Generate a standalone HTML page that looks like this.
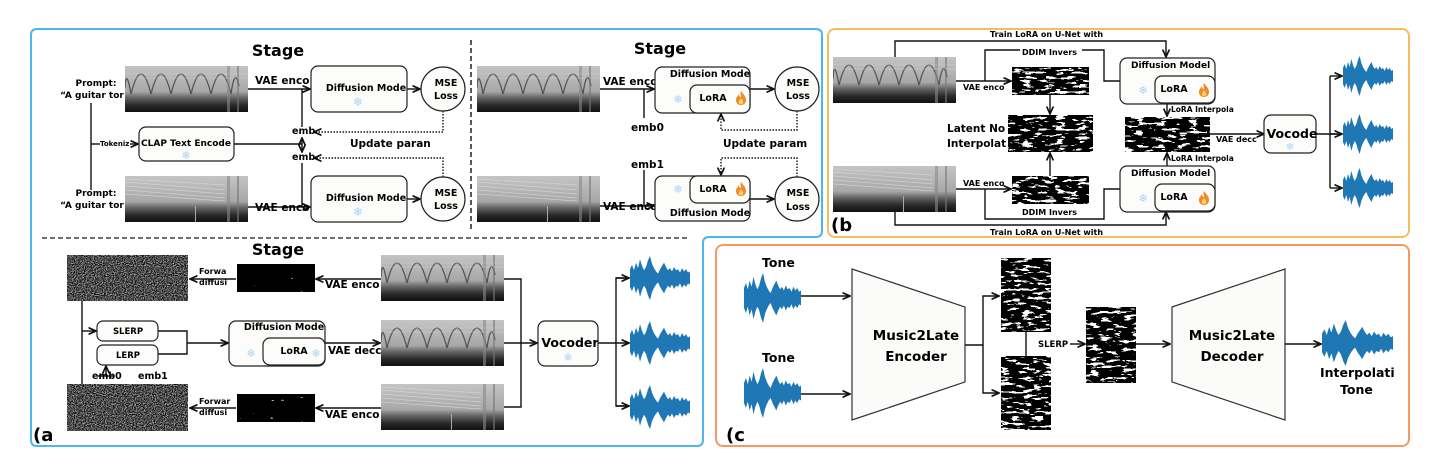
<!DOCTYPE html>
<html><head><meta charset="utf-8"><style>
html,body{margin:0;padding:0;background:#fff;}
svg{display:block;font-family:"DejaVu Sans","Liberation Sans",sans-serif;}
.b{font-weight:bold;}
</style></head><body>
<svg width="1438" height="475" viewBox="0 0 1438 475" xmlns="http://www.w3.org/2000/svg">
<defs>
<linearGradient id="sg" x1="0" y1="0" x2="0" y2="1">
<stop offset="0" stop-color="#c4c4c4"/><stop offset="0.55" stop-color="#a8a8a8"/><stop offset="0.7" stop-color="#606060"/><stop offset="0.85" stop-color="#2a2a2a"/><stop offset="1" stop-color="#101010"/></linearGradient>
<symbol id="specA" viewBox="0 0 123 46" preserveAspectRatio="none">
<rect width="123" height="46" fill="url(#sg)"/>
<path d="M0,22 Q1,0 6,28 M6,28 Q16,-12 26,28 Q36,-12 46,28 Q56,-12 66,28 Q76,-12 86,28 Q96,-12 106,28 Q110,0 114,20" fill="none" stroke="#555" stroke-width="1.3"/>
<rect x="102" y="0" width="3" height="46" fill="#888" opacity=".6"/><rect x="112" y="0" width="2" height="46" fill="#777" opacity=".6"/>
<path d="M0,8 H123 M0,12 H123" stroke="#ddd" stroke-width=".5" opacity=".6"/>
</symbol>
<symbol id="specB" viewBox="0 0 123 46" preserveAspectRatio="none">
<rect width="123" height="46" fill="url(#sg)"/>
<path d="M0,6 L100,14 M0,10 L100,18 M0,14 L100,22 M0,18 L100,25 M0,3 L100,9" stroke="#ddd" stroke-width=".7" opacity=".7"/>
<rect x="102" y="0" width="3" height="46" fill="#888" opacity=".6"/><rect x="112" y="0" width="2" height="46" fill="#777" opacity=".6"/>
<rect x="70" y="30" width="1" height="16" fill="#aaa"/>
</symbol>
<filter id="nz" x="0" y="0" width="100%" height="100%" color-interpolation-filters="sRGB"><feTurbulence type="fractalNoise" baseFrequency="0.9" numOctaves="1" seed="2"/><feColorMatrix type="matrix" values="1 0 0 0 0 1 0 0 0 0 1 0 0 0 0 0 0 0 0 1"/><feComponentTransfer><feFuncR type="linear" slope="1.8" intercept="-0.6"/><feFuncG type="linear" slope="1.8" intercept="-0.6"/><feFuncB type="linear" slope="1.8" intercept="-0.6"/></feComponentTransfer></filter>
<filter id="lt" x="0" y="0" width="100%" height="100%" color-interpolation-filters="sRGB"><feTurbulence type="fractalNoise" baseFrequency="0.09 0.35" numOctaves="3" seed="5"/><feColorMatrix type="matrix" values="1 0 0 0 0 1 0 0 0 0 1 0 0 0 0 0 0 0 0 1"/><feComponentTransfer><feFuncR type="discrete" tableValues="0 0 0 1 1"/><feFuncG type="discrete" tableValues="0 0 0 1 1"/><feFuncB type="discrete" tableValues="0 0 0 1 1"/></feComponentTransfer></filter>
<filter id="lt2" x="0" y="0" width="100%" height="100%" color-interpolation-filters="sRGB"><feTurbulence type="fractalNoise" baseFrequency="0.1 0.35" numOctaves="3" seed="9"/><feColorMatrix type="matrix" values="1 0 0 0 0 1 0 0 0 0 1 0 0 0 0 0 0 0 0 1"/><feComponentTransfer><feFuncR type="discrete" tableValues="0 0 0 0 1"/><feFuncG type="discrete" tableValues="0 0 0 0 1"/><feFuncB type="discrete" tableValues="0 0 0 0 1"/></feComponentTransfer></filter>
<symbol id="wave" viewBox="0 0 60 40" preserveAspectRatio="none">
<path fill="#1f77b4" d="M0,12 L2,8 4,13 6,6 8,11 10,3 12,9 14,13 16,10 18,4 20,0 22,7 24,11 26,14 28,16 30,12 32,9 34,6 36,10 38,13 40,11 42,14 44,10 46,13 48,12 50,15 52,11 54,14 56,12 58,15 60,14 L60,26 58,25 56,28 54,26 52,29 50,25 48,28 46,27 44,30 42,26 40,29 38,27 36,30 34,34 32,31 30,28 28,24 26,26 24,29 22,33 20,40 18,36 16,30 14,27 12,31 10,37 8,29 6,34 4,27 2,32 0,28 Z"/>
<rect x="0" y="18" width="60" height="4" fill="#1f77b4"/>
</symbol>
<symbol id="fire" viewBox="0 0 10 14"><path d="M5,0 C7,3 10,5 10,9 C10,12 8,14 5,14 C2,14 0,12 0,9 C0,6 2,5 3,3 C3,5 4,6 5,6 C5,4 4,2 5,0Z" fill="#f08a2c"/><path d="M5,7 C6,9 8,10 7,12 C6,13.5 4,13.5 3,12 C2.5,10 4,9 5,7Z" fill="#fcd36b"/></symbol>
<marker id="ar" viewBox="0 0 10 10" refX="9" refY="5" markerWidth="6" markerHeight="6" orient="auto-start-reverse"><path d="M0,1 L9,5 L0,9" fill="none" stroke="#111" stroke-width="2"/></marker>
</defs>

<path d="M37,29 H816 Q822,29 822,35 V231 Q822,237 816,237 H709 Q703,237 703,243 V440 Q703,446 697,446 H37 Q31,446 31,440 V35 Q31,29 37,29 Z" fill="none" stroke="#4db6ee" stroke-width="2"/>
<rect x="828" y="29" width="581" height="208" rx="7" fill="none" stroke="#f7bd5c" stroke-width="2"/>
<rect x="716" y="245" width="693" height="201" rx="7" fill="none" stroke="#f49a5e" stroke-width="2"/>

<g stroke="#111" stroke-width="1.4" fill="none">
<line x1="471" y1="40" x2="471" y2="232" stroke-dasharray="5,3"/>
<line x1="42" y1="238" x2="690" y2="238" stroke-dasharray="5,3" stroke="#444"/>
</g>

<!-- Stage 1 -->
<text x="278" y="56" class="b" font-size="16" text-anchor="middle">Stage</text>
<g font-size="9" class="b" text-anchor="middle">
<text x="96" y="86">Prompt:</text><text x="92" y="98">“A guitar tor</text>
<text x="96" y="196">Prompt:</text><text x="92" y="208">“A guitar tor</text>
</g>
<use href="#specA" x="125" y="66" width="123" height="46"/>
<use href="#specB" x="125" y="176" width="123" height="46"/>
<g stroke="#111" stroke-width="1.4" fill="none">
<line x1="91" y1="103" x2="91" y2="190"/>
<line x1="91" y1="144" x2="100" y2="144"/>
<line x1="130" y1="144" x2="138" y2="144" marker-end="url(#ar)"/>
<line x1="248" y1="89" x2="310" y2="89" marker-end="url(#ar)"/>
<line x1="248" y1="207" x2="310" y2="207" marker-end="url(#ar)"/>
<line x1="302" y1="89" x2="302" y2="127"/>
<line x1="302" y1="163" x2="302" y2="207"/>
<line x1="234" y1="144" x2="302" y2="144"/>
<line x1="302" y1="138" x2="302" y2="152" marker-start="url(#ar)" marker-end="url(#ar)"/>
<line x1="407" y1="89" x2="420" y2="89" marker-end="url(#ar)"/>
<line x1="407" y1="199" x2="420" y2="199" marker-end="url(#ar)"/>
<path d="M443,111 V132 H314" stroke-dasharray="1.5,1.5" marker-end="url(#ar)"/>
<path d="M443,177 V158 H314" stroke-dasharray="1.5,1.5" marker-end="url(#ar)"/>
</g>
<text x="100" y="146" font-size="7" class="b">Tokeniz</text>
<rect x="139" y="127" width="95" height="34" rx="7" fill="#fcfcfa" stroke="#222" stroke-width="1.2"/>
<text x="186" y="146" font-size="9" class="b" text-anchor="middle">CLAP Text Encode</text>
<text x="186" y="159" font-size="11" fill="#a8d4f7" text-anchor="middle">❄</text>
<text x="255" y="84" font-size="10.5" class="b">VAE enco</text>
<text x="255" y="211" font-size="10.5" class="b">VAE enco</text>
<text x="292" y="134" font-size="9.5" class="b">emb</text>
<text x="292" y="160" font-size="9.5" class="b">emb</text>
<text x="350" y="147" font-size="10.5" class="b">Update paran</text>
<rect x="311" y="66" width="96" height="46" rx="7" fill="#fcfcfa" stroke="#222" stroke-width="1.2"/>
<text x="366" y="91" font-size="9.5" class="b" text-anchor="middle">Diffusion Mode</text>
<text x="358" y="106" font-size="12" fill="#a8d4f7" text-anchor="middle">❄</text>
<rect x="311" y="176" width="96" height="46" rx="7" fill="#fcfcfa" stroke="#222" stroke-width="1.2"/>
<text x="366" y="201" font-size="9.5" class="b" text-anchor="middle">Diffusion Mode</text>
<text x="358" y="216" font-size="12" fill="#a8d4f7" text-anchor="middle">❄</text>
<circle cx="443" cy="89" r="22" fill="#fcfcfa" stroke="#222" stroke-width="1.2"/>
<text x="446" y="86" font-size="9.5" class="b" text-anchor="middle">MSE</text><text x="446" y="99" font-size="9.5" class="b" text-anchor="middle">Loss</text>
<circle cx="443" cy="199" r="22" fill="#fcfcfa" stroke="#222" stroke-width="1.2"/>
<text x="446" y="196" font-size="9.5" class="b" text-anchor="middle">MSE</text><text x="446" y="209" font-size="9.5" class="b" text-anchor="middle">Loss</text>

<!-- Stage 2 -->
<text x="660" y="54" class="b" font-size="16" text-anchor="middle">Stage</text>
<use href="#specA" x="477" y="66" width="123" height="46"/>
<use href="#specB" x="477" y="176" width="123" height="46"/>
<g stroke="#111" stroke-width="1.4" fill="none">
<line x1="600" y1="89" x2="654" y2="89" marker-end="url(#ar)"/>
<line x1="600" y1="206" x2="654" y2="206" marker-end="url(#ar)"/>
<line x1="644" y1="89" x2="644" y2="118"/>
<line x1="644" y1="170" x2="644" y2="206"/>
<line x1="750" y1="89" x2="774" y2="89" marker-end="url(#ar)"/>
<line x1="750" y1="199" x2="774" y2="199" marker-end="url(#ar)"/>
<path d="M797,111 V130 H721 V114" stroke-dasharray="1.5,1.5" marker-end="url(#ar)"/>
<path d="M797,177 V158 H721 V175" stroke-dasharray="1.5,1.5" marker-end="url(#ar)"/>
</g>
<text x="603" y="85" font-size="10.5" class="b">VAE enco</text>
<text x="603" y="210" font-size="10.5" class="b">VAE enco</text>
<text x="631" y="131" font-size="10.5" class="b">emb0</text>
<text x="631" y="168" font-size="10.5" class="b">emb1</text>
<text x="723" y="147" font-size="10.5" class="b">Update param</text>
<rect x="655" y="67" width="95" height="46" rx="7" fill="#fcfcfa" stroke="#222" stroke-width="1.2"/>
<text x="710" y="77" font-size="9.5" class="b" text-anchor="middle">Diffusion Mode</text>
<rect x="690" y="85" width="60" height="28" rx="7" fill="#fcfcfa" stroke="#222" stroke-width="1.2"/>
<text x="713" y="101" font-size="9.5" class="b" text-anchor="middle">LoRA</text>
<use href="#fire" x="736" y="91" width="10" height="14"/>
<text x="678" y="103" font-size="11" fill="#a8d4f7" text-anchor="middle">❄</text>
<rect x="655" y="176" width="95" height="45" rx="7" fill="#fcfcfa" stroke="#222" stroke-width="1.2"/>
<rect x="690" y="176" width="60" height="27" rx="7" fill="#fcfcfa" stroke="#222" stroke-width="1.2"/>
<text x="713" y="192" font-size="9.5" class="b" text-anchor="middle">LoRA</text>
<use href="#fire" x="736" y="182" width="10" height="14"/>
<text x="678" y="193" font-size="11" fill="#a8d4f7" text-anchor="middle">❄</text>
<text x="710" y="216" font-size="9.5" class="b" text-anchor="middle">Diffusion Mode</text>
<circle cx="797" cy="89" r="22" fill="#fcfcfa" stroke="#222" stroke-width="1.2"/>
<text x="798" y="86" font-size="9.5" class="b" text-anchor="middle">MSE</text><text x="798" y="99" font-size="9.5" class="b" text-anchor="middle">Loss</text>
<circle cx="797" cy="199" r="22" fill="#fcfcfa" stroke="#222" stroke-width="1.2"/>
<text x="798" y="196" font-size="9.5" class="b" text-anchor="middle">MSE</text><text x="798" y="210" font-size="9.5" class="b" text-anchor="middle">Loss</text>

<!-- Stage 3 -->
<text x="278" y="255" class="b" font-size="16" text-anchor="middle">Stage</text>
<rect x="67" y="255" width="121" height="46" filter="url(#nz)"/>
<rect x="67" y="384" width="121" height="47" filter="url(#nz)"/>
<rect x="237" y="264" width="78" height="28" filter="url(#lt2)"/>
<rect x="237" y="394" width="78" height="28" filter="url(#lt2)"/>
<use href="#specA" x="381" y="255" width="123" height="46"/>
<use href="#specA" x="381" y="320" width="123" height="46"/>
<use href="#specB" x="381" y="384" width="123" height="46"/>
<g stroke="#111" stroke-width="1.4" fill="none">
<line x1="236" y1="279" x2="190" y2="279" marker-end="url(#ar)"/>
<line x1="236" y1="408" x2="190" y2="408" marker-end="url(#ar)"/>
<line x1="381" y1="279" x2="316" y2="279" marker-end="url(#ar)"/>
<line x1="381" y1="408" x2="316" y2="408" marker-end="url(#ar)"/>
<path d="M504,279 H521 V407 H504"/>
<line x1="504" y1="343" x2="537" y2="343" marker-end="url(#ar)"/>
<line x1="598" y1="343" x2="629" y2="343" marker-end="url(#ar)"/>
<path d="M629,278 H616 V406 H629" />
<line x1="616" y1="278" x2="629" y2="278" marker-end="url(#ar)"/>
<line x1="616" y1="406" x2="629" y2="406" marker-end="url(#ar)"/>
<line x1="82" y1="301" x2="82" y2="384"/>
<line x1="82" y1="331" x2="96" y2="331" marker-end="url(#ar)"/>
<path d="M158,331 H187 V354 H158"/>
<line x1="187" y1="343" x2="228" y2="343" marker-end="url(#ar)"/>
<line x1="325" y1="343" x2="380" y2="343" marker-end="url(#ar)"/>
<path d="M98,376 H114"/><line x1="106" y1="376" x2="106" y2="366" marker-end="url(#ar)"/>
</g>
<g font-size="8" class="b"><text x="199" y="274">Forwa</text><text x="199" y="285">diffusi</text><text x="199" y="404">Forwar</text><text x="199" y="415">diffusi</text></g>
<text x="325" y="288" font-size="10.5" class="b">VAE enco</text>
<text x="325" y="418" font-size="10.5" class="b">VAE enco</text>
<text x="328" y="354" font-size="10.5" class="b">VAE decc</text>
<rect x="97" y="321" width="61" height="20" rx="6" fill="#fcfcfa" stroke="#222" stroke-width="1.2"/>
<text x="128" y="334" font-size="8.5" class="b" text-anchor="middle">SLERP</text>
<rect x="97" y="345" width="61" height="20" rx="6" fill="#fcfcfa" stroke="#222" stroke-width="1.2"/>
<text x="128" y="358" font-size="8.5" class="b" text-anchor="middle">LERP</text>
<text x="92" y="379" font-size="9.5" class="b">emb0</text><text x="138" y="379" font-size="9.5" class="b">emb1</text>
<rect x="229" y="321" width="96" height="45" rx="7" fill="#fcfcfa" stroke="#222" stroke-width="1.2"/>
<text x="284" y="330" font-size="9.5" class="b" text-anchor="middle">Diffusion Mode</text>
<rect x="263" y="338" width="62" height="27" rx="7" fill="#fcfcfa" stroke="#222" stroke-width="1.2"/>
<text x="294" y="354" font-size="9.5" class="b" text-anchor="middle">LoRA</text>
<text x="251" y="357" font-size="11" fill="#a8d4f7" text-anchor="middle">❄</text>
<text x="316" y="357" font-size="11" fill="#a8d4f7" text-anchor="middle">❄</text>
<rect x="538" y="321" width="60" height="45" rx="7" fill="#fcfcfa" stroke="#222" stroke-width="1.2"/>
<text x="570" y="347" font-size="12.5" class="b" text-anchor="middle">Vocoder</text>
<text x="568" y="361" font-size="11" fill="#a8d4f7" text-anchor="middle">❄</text>
<use href="#wave" x="630" y="256" width="60" height="44"/>
<use href="#wave" x="630" y="321" width="60" height="44"/>
<use href="#wave" x="630" y="385" width="60" height="44"/>
<text x="33" y="441" font-size="18" class="b">(a</text>

<!-- Panel b -->
<use href="#specA" x="833" y="57" width="123" height="46"/>
<use href="#specB" x="833" y="166" width="123" height="46"/>
<rect x="1012" y="67" width="77" height="28" filter="url(#lt)"/>
<rect x="1008" y="115" width="85" height="37" filter="url(#lt)"/>
<rect x="1012" y="176" width="77" height="28" filter="url(#lt)"/>
<rect x="1125" y="117" width="85" height="35" filter="url(#lt)"/>
<g stroke="#111" stroke-width="1.4" fill="none">
<path d="M895,57 V41 H1166 V57" marker-end="url(#ar)"/>
<path d="M895,212 V225 H1166 V212" marker-end="url(#ar)"/>
<line x1="956" y1="81" x2="1011" y2="81" marker-end="url(#ar)"/>
<line x1="956" y1="189" x2="1011" y2="189" marker-end="url(#ar)"/>
<path d="M985,81 V50 H1104 V81 H1120"/>
<path d="M985,189 V219 H1104 V189 H1120"/>
<line x1="1050" y1="95" x2="1050" y2="114" marker-end="url(#ar)"/>
<line x1="1050" y1="176" x2="1050" y2="153" marker-end="url(#ar)"/>
<line x1="1167" y1="103" x2="1167" y2="116" marker-end="url(#ar)"/>
<line x1="1167" y1="166" x2="1167" y2="153" marker-end="url(#ar)"/>
<line x1="1200" y1="134" x2="1264" y2="134" marker-end="url(#ar)"/>
<path d="M1316,134 H1342"/>
<path d="M1330,76 V188"/>
<line x1="1330" y1="76" x2="1342" y2="76" marker-end="url(#ar)"/>
<line x1="1330" y1="134" x2="1342" y2="134" marker-end="url(#ar)"/>
<line x1="1330" y1="188" x2="1342" y2="188" marker-end="url(#ar)"/>
</g>
<rect x="988" y="30" width="126" height="9" fill="#fff"/>
<text x="990" y="37" font-size="8" class="b">Train LoRA on U-Net with</text>
<text x="990" y="235" font-size="8" class="b">Train LoRA on U-Net with</text>
<rect x="1020" y="46" width="62" height="9" fill="#fff"/>
<text x="1022" y="55" font-size="8" class="b">DDIM Invers</text>
<rect x="1020" y="206" width="62" height="9" fill="#fff"/>
<text x="1022" y="215" font-size="8" class="b">DDIM Invers</text>
<text x="963" y="90" font-size="8" class="b">VAE enco</text>
<text x="963" y="186" font-size="8" class="b">VAE enco</text>
<text x="947" y="132" font-size="10.5" class="b">Latent No</text>
<text x="947" y="147" font-size="10.5" class="b">Interpolat</text>
<rect x="1120" y="58" width="95" height="46" rx="7" fill="#fcfcfa" stroke="#222" stroke-width="1.2"/>
<text x="1131" y="68" font-size="9" class="b">Diffusion Model</text>
<rect x="1155" y="76" width="60" height="27" rx="7" fill="#fcfcfa" stroke="#222" stroke-width="1.2"/>
<text x="1174" y="92" font-size="9.5" class="b" text-anchor="middle">LoRA</text>
<use href="#fire" x="1199" y="83" width="10" height="14"/>
<text x="1143" y="94" font-size="11" fill="#a8d4f7" text-anchor="middle">❄</text>
<rect x="1120" y="166" width="95" height="46" rx="7" fill="#fcfcfa" stroke="#222" stroke-width="1.2"/>
<text x="1131" y="176" font-size="9" class="b">Diffusion Model</text>
<rect x="1155" y="184" width="60" height="27" rx="7" fill="#fcfcfa" stroke="#222" stroke-width="1.2"/>
<text x="1174" y="200" font-size="9.5" class="b" text-anchor="middle">LoRA</text>
<use href="#fire" x="1199" y="191" width="10" height="14"/>
<text x="1143" y="202" font-size="11" fill="#a8d4f7" text-anchor="middle">❄</text>
<text x="1171" y="112" font-size="7.5" class="b">LoRA Interpola</text>
<text x="1171" y="161" font-size="7.5" class="b">LoRA Interpola</text>
<text x="1216" y="142" font-size="8" class="b">VAE decc</text>
<rect x="1264" y="115" width="52" height="38" rx="7" fill="#fcfcfa" stroke="#222" stroke-width="1.2"/>
<text x="1292" y="138" font-size="12.5" class="b" text-anchor="middle">Vocode</text>
<text x="1290" y="150" font-size="10" fill="#a8d4f7" text-anchor="middle">❄</text>
<use href="#wave" x="1343" y="56" width="50" height="40"/>
<use href="#wave" x="1343" y="114" width="50" height="40"/>
<use href="#wave" x="1343" y="168" width="50" height="40"/>
<text x="831" y="231" font-size="18" class="b">(b</text>

<!-- Panel c -->
<text x="762" y="267" font-size="12.5" class="b">Tone</text>
<text x="762" y="362" font-size="12.5" class="b">Tone</text>
<use href="#wave" x="744" y="273" width="57" height="50"/>
<use href="#wave" x="744" y="368" width="57" height="50"/>
<polygon points="852,269 965,307 965,382 852,420" fill="#fbfbf9" stroke="#333" stroke-width="1.2"/>
<polygon points="1172,307 1285,269 1285,420 1172,382" fill="#fbfbf9" stroke="#333" stroke-width="1.2"/>
<text x="916" y="340" font-size="13.5" class="b" text-anchor="middle">Music2Late</text>
<text x="916" y="361" font-size="13.5" class="b" text-anchor="middle">Encoder</text>
<text x="1232" y="340" font-size="13.5" class="b" text-anchor="middle">Music2Late</text>
<text x="1232" y="361" font-size="13.5" class="b" text-anchor="middle">Decoder</text>
<rect x="1001" y="258" width="50" height="74" filter="url(#lt)"/>
<rect x="1001" y="356" width="50" height="74" filter="url(#lt)"/>
<rect x="1086" y="307" width="50" height="76" filter="url(#lt)"/>
<g stroke="#111" stroke-width="1.4" fill="none">
<line x1="801" y1="296" x2="850" y2="296" marker-end="url(#ar)"/>
<line x1="801" y1="394" x2="850" y2="394" marker-end="url(#ar)"/>
<path d="M965,345 H983 V296 H999" marker-end="url(#ar)"/>
<path d="M983,345 V393 H999" marker-end="url(#ar)"/>
<line x1="1026" y1="332" x2="1026" y2="356"/>
<line x1="1070" y1="344" x2="1085" y2="344" marker-end="url(#ar)"/>
<line x1="1136" y1="344" x2="1170" y2="344" marker-end="url(#ar)"/>
<line x1="1285" y1="344" x2="1321" y2="344" marker-end="url(#ar)"/>
</g>
<text x="1038" y="347" font-size="8.5" class="b">SLERP</text>
<use href="#wave" x="1322" y="320" width="71" height="46"/>
<text x="1320" y="377" font-size="12.5" class="b">Interpolati</text>
<text x="1340" y="394" font-size="12.5" class="b">Tone</text>
<text x="726" y="441" font-size="18" class="b">(c</text>
</svg>
</body></html>
